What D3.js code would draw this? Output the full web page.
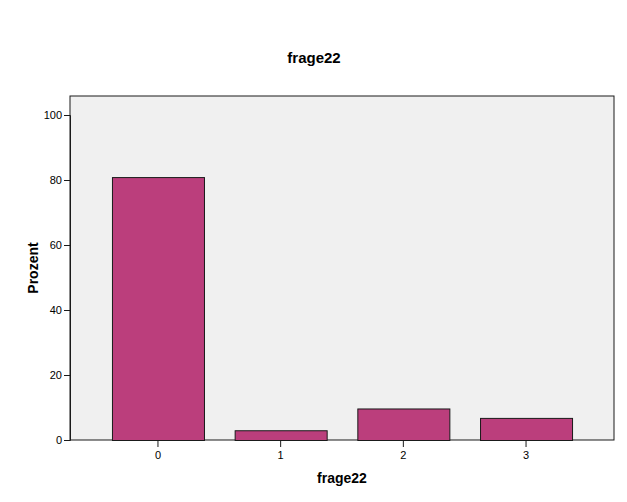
<!DOCTYPE html>
<html><head><meta charset="utf-8">
<script src="https://cdn.jsdelivr.net/npm/d3@7"></script>
<style>body{margin:0;background:#fff;}svg{display:block;font-family:"Liberation Sans",Arial,sans-serif;}</style>
</head><body>
<script>
const categories = ["0","1","2","3"];
const values = [80.9, 3.0, 9.7, 6.8];
const yTicks = [0,20,40,60,80,100];
const title = "frage22";
const xLabel = "frage22";
const yLabel = "Prozent";

const W=627,H=502;
const svg=d3.select("body").append("svg").attr("width",W).attr("height",H);
const L=70,R=614,T=96,B=440;
const x=d3.scaleBand().domain(categories).range([L,R]).paddingInner(0.25).paddingOuter(0.342);
const y=d3.scaleLinear().domain([0,100]).range([B,115]);

svg.append("rect").attr("x",L).attr("y",T).attr("width",R-L).attr("height",B-T)
  .attr("fill","#f0f0f0").attr("stroke","#1a1a1a").attr("stroke-width",1);

svg.selectAll("rect.bar").data(values).enter().append("rect").attr("class","bar")
  .attr("x",(d,i)=>x(categories[i])+0.5).attr("y",d=>y(d)+0.5)
  .attr("width",x.bandwidth()).attr("height",d=>B-y(d))
  .attr("fill","#bb3e7c").attr("stroke","#1a1a1a").attr("stroke-width",1);

const ya=svg.append("g").attr("transform",`translate(${L},0)`)
  .call(d3.axisLeft(y).tickValues(yTicks).tickSize(6).tickPadding(2));
ya.select(".domain").attr("stroke","#1a1a1a");
ya.selectAll("line").attr("stroke","#1a1a1a");
ya.selectAll("text").attr("font-size","11px").attr("fill","#000").attr("font-family","Liberation Sans, Arial, sans-serif");

const xa=svg.append("g").attr("transform",`translate(0,${B})`)
  .call(d3.axisBottom(x).tickSize(7).tickPadding(4));
xa.select(".domain").remove();
xa.selectAll("line").attr("stroke","#1a1a1a");
xa.selectAll("text").attr("font-size","11px").attr("fill","#000").attr("font-family","Liberation Sans, Arial, sans-serif");

svg.append("text").attr("x",314).attr("y",63).attr("text-anchor","middle")
  .attr("font-size","15px").attr("font-weight","bold").text(title);
svg.append("text").attr("x",342).attr("y",483).attr("text-anchor","middle")
  .attr("font-size","14px").attr("font-weight","bold").text(xLabel);
svg.append("text").attr("transform","translate(38,268) rotate(-90)").attr("text-anchor","middle")
  .attr("font-size","14px").attr("font-weight","bold").text(yLabel);
</script>
</body></html>
